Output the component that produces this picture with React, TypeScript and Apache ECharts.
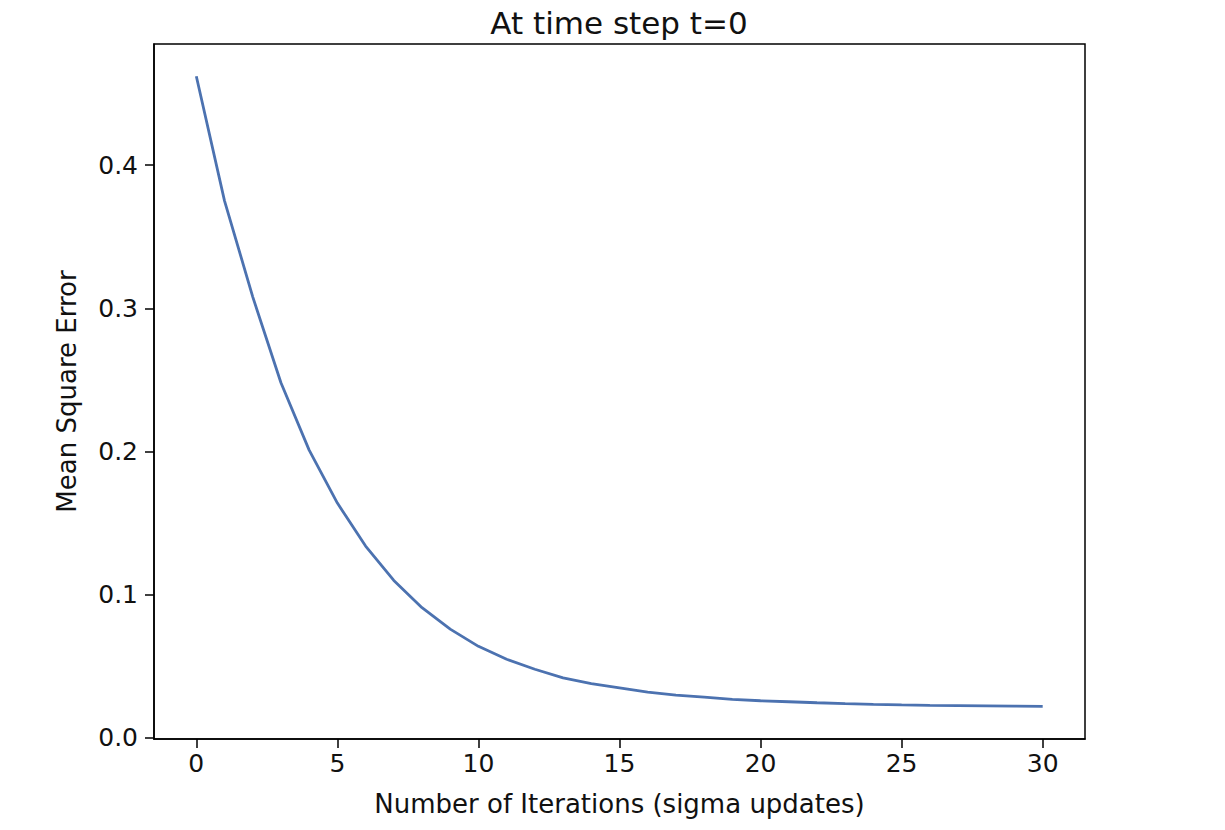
import React, { useEffect, useRef } from "react";
import * as echarts from "echarts";

const iterations = [0,1,2,3,4,5,6,7,8,9,10,11,12,13,14,15,16,17,18,19,20,21,22,23,24,25,26,27,28,29,30];
const mse = [0.462,0.375,0.308,0.248,0.201,0.164,0.134,0.110,0.091,0.076,0.064,0.055,0.048,0.042,0.038,0.035,0.032,0.030,0.0285,0.027,0.026,0.0253,0.0246,0.0240,0.0235,0.0231,0.0228,0.0226,0.0224,0.0222,0.0221];
const xTicks = [0,5,10,15,20,25,30];
const yTicks = [0,0.1,0.2,0.3,0.4];

const FONT = "DejaVu Sans";

export default function App() {
  const ref = useRef<HTMLDivElement>(null);
  useEffect(() => {
    const chart = echarts.init(ref.current!, null, { renderer: "svg" });
    chart.setOption({
      animation: false,
      backgroundColor: "#ffffff",
      title: {
        text: "At time step t=0",
        left: 614,
        textAlign: "center",
        top: 2,
        textStyle: { fontFamily: FONT, fontSize: 31, fontWeight: "normal", color: "#111" },
      },
      grid: {
        left: 154, right: 140, top: 44, bottom: 91,
        show: true, borderColor: "#000", borderWidth: 1.5, backgroundColor: "transparent",
      },
      xAxis: {
        type: "value",
        min: -1.5, max: 31.5,
        name: "Number of Iterations (sigma updates)",
        nameLocation: "middle",
        nameGap: 52,
        nameTextStyle: { fontFamily: FONT, fontSize: 26, color: "#111" },
        axisLine: { show: true, onZero: false, lineStyle: { color: "#000", width: 1.5 } },
        axisTick: { show: true, inside: false, length: 9, lineStyle: { color: "#000", width: 1.5 }, customValues: xTicks },
        axisLabel: { fontFamily: FONT, fontSize: 25, color: "#111", margin: 12, customValues: xTicks, formatter: (v: number) => String(v) },
        splitLine: { show: false },
      },
      yAxis: {
        type: "value",
        min: -0.0007, max: 0.4845,
        name: "Mean Square Error",
        nameLocation: "middle",
        nameGap: 74,
        nameTextStyle: { fontFamily: FONT, fontSize: 26, color: "#111" },
        axisLine: { show: true, onZero: false, lineStyle: { color: "#000", width: 1.5 } },
        axisTick: { show: true, inside: false, length: 9, lineStyle: { color: "#000", width: 1.5 }, customValues: yTicks },
        axisLabel: { fontFamily: FONT, fontSize: 25, color: "#111", margin: 16, customValues: yTicks, formatter: (v: number) => v.toFixed(1) },
        splitLine: { show: false },
      },
      series: [
        {
          type: "line",
          data: iterations.map((x, i) => [x, mse[i]]),
          showSymbol: false,
          lineStyle: { color: "#4c72b0", width: 2.8 },
          itemStyle: { color: "#4c72b0" },
        },
      ],
    });
    return () => chart.dispose();
  }, []);
  return <div ref={ref} style={{ position: "fixed", left: 0, top: 0, width: 1225, height: 830 }} />;
}
